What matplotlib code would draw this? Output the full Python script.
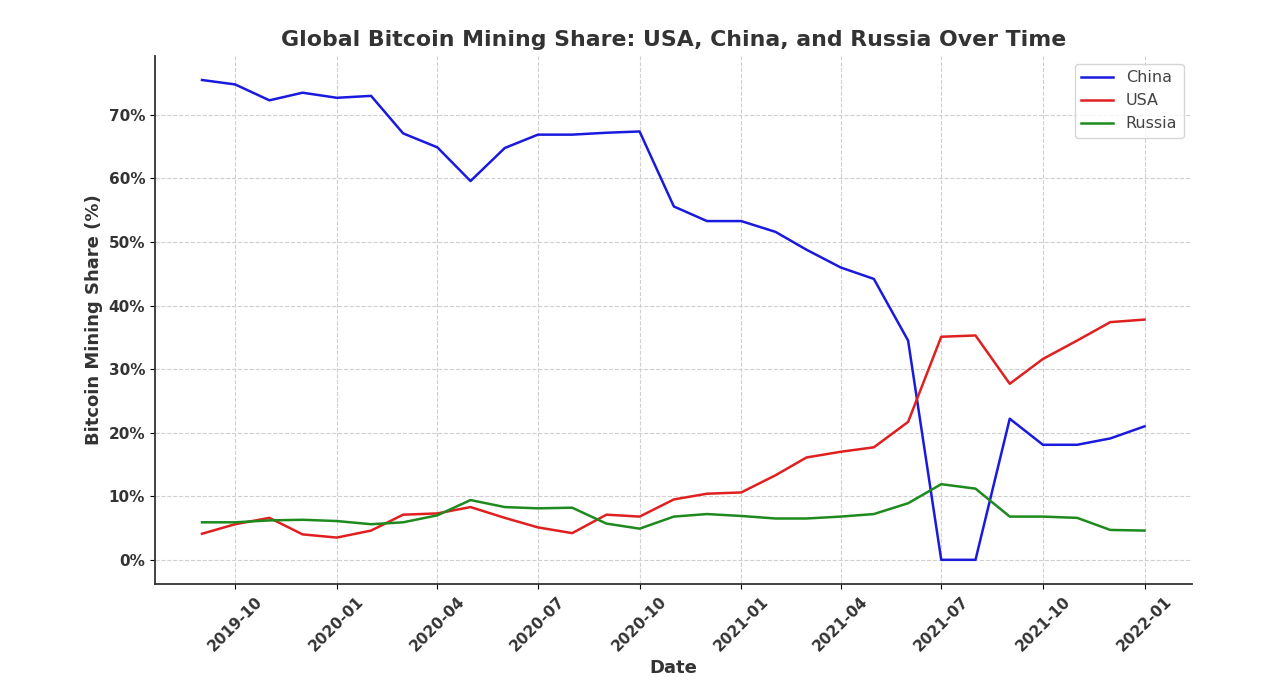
import matplotlib
matplotlib.use("Agg")
import matplotlib.pyplot as plt
import matplotlib.dates as mdates
from matplotlib.ticker import FuncFormatter
import pandas as pd

months = pd.date_range("2019-09-01", "2022-01-01", freq="MS")

china = [75.5, 74.8, 72.3, 73.5, 72.7, 73.0, 67.1, 64.9, 59.6, 64.8, 66.9, 66.9,
         67.2, 67.4, 55.6, 53.3, 53.3, 51.6, 48.8, 46.0, 44.2, 34.5, 0.0, 0.0,
         22.2, 18.1, 18.1, 19.1, 21.0]
usa = [4.1, 5.6, 6.6, 4.0, 3.5, 4.6, 7.1, 7.3, 8.3, 6.6, 5.1, 4.2,
       7.1, 6.8, 9.5, 10.4, 10.6, 13.3, 16.1, 17.0, 17.7, 21.7, 35.1, 35.3,
       27.7, 31.6, 34.5, 37.4, 37.8]
russia = [5.9, 5.9, 6.2, 6.3, 6.1, 5.6, 5.9, 7.0, 9.4, 8.3, 8.1, 8.2,
          5.7, 4.9, 6.8, 7.2, 6.9, 6.5, 6.5, 6.8, 7.2, 8.9, 11.9, 11.2,
          6.8, 6.8, 6.6, 4.7, 4.6]

fig = plt.figure(figsize=(12.8, 7.0), dpi=100)
ax = fig.add_axes([0.121, 0.166, 0.81, 0.754])

ax.plot(months, china, color="#1a1adf", lw=1.8, label="China")
ax.plot(months, usa, color="#e02020", lw=1.8, label="USA")
ax.plot(months, russia, color="#1e8a1e", lw=1.8, label="Russia")

ax.set_title("Global Bitcoin Mining Share: USA, China, and Russia Over Time",
             fontsize=15.8, fontweight="bold", color="#333333", pad=7)
ax.set_xlabel("Date", fontsize=13, fontweight="bold", color="#333333")
ax.set_ylabel("Bitcoin Mining Share (%)", fontsize=13, fontweight="bold", color="#333333")

ax.xaxis.set_major_locator(mdates.MonthLocator(bymonth=[1, 4, 7, 10]))
ax.xaxis.set_major_formatter(mdates.DateFormatter("%Y-%m"))
ax.set_yticks(range(0, 80, 10))
ax.yaxis.set_major_formatter(FuncFormatter(lambda v, p: f"{v:.0f}%"))

for lab in ax.get_xticklabels():
    lab.set_rotation(45)
    lab.set_fontweight("bold")
    lab.set_fontsize(11)
    lab.set_color("#333333")
for lab in ax.get_yticklabels():
    lab.set_fontweight("bold")
    lab.set_fontsize(11)
    lab.set_color("#333333")

ax.grid(True, linestyle="--", color="#d0d0d0", lw=0.8)
ax.spines["top"].set_visible(False)
ax.spines["right"].set_visible(False)
ax.spines["left"].set_color("#333333")
ax.spines["bottom"].set_color("#333333")
ax.spines["left"].set_linewidth(1.3)
ax.spines["bottom"].set_linewidth(1.3)

leg = ax.legend(loc="upper right", fontsize=11.5)
for t in leg.get_texts():
    t.set_color("#444444")

fig.savefig("out.png", dpi=100)
